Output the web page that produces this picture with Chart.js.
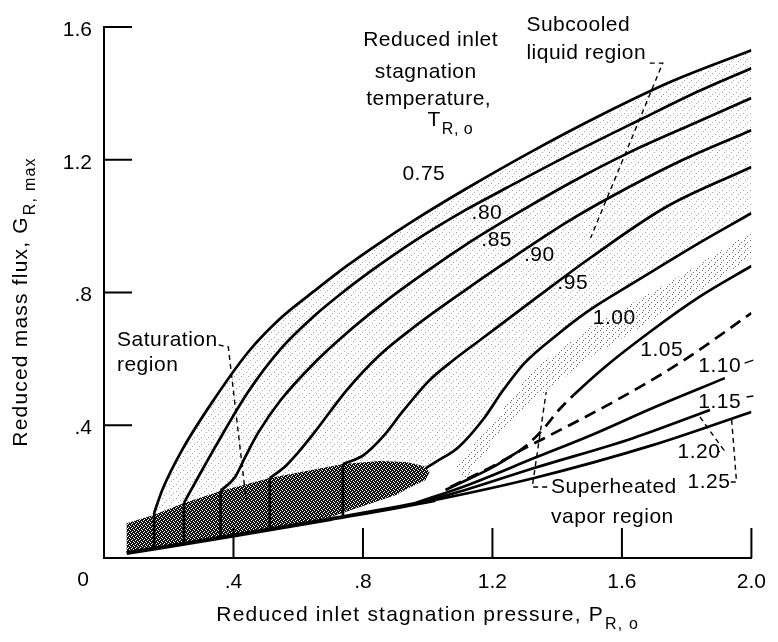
<!DOCTYPE html>
<html lang="en">
<head>
    <meta charset="UTF-8">
    <title>Reduced mass flux vs reduced inlet stagnation pressure</title>
    <script src="https://cdn.jsdelivr.net/npm/chart.js"></script>
    <style>
        body { margin: 0; background: #fff; }
        #wrap { width: 778px; height: 642px; }
    </style>
</head>
<body>
<div id="wrap"><canvas id="flux" width="778" height="642"></canvas></div>
<script>
    // axis tick labels
    const xTicks = ['0', '.4', '.8', '1.2', '1.6', '2.0'];
    const yTicks = ['0', '.4', '.8', '1.2', '1.6'];

    // curves of constant reduced inlet temperature, [P_R,o, G_R,max];
    // the first two points of the liquid curves are the stem through the saturation region
    const t075 = [[0.155,0.030],[0.155,0.136],[0.180,0.205],[0.241,0.325],[0.345,0.485],[0.445,0.620],[0.546,0.723],[0.649,0.804],[0.750,0.880],[0.851,0.949],[0.954,1.015],[1.116,1.111],[1.329,1.229],[1.534,1.334],[1.756,1.437],[2.0,1.530]];
    const t080 = [[0.247,0.045],[0.247,0.166],[0.293,0.247],[0.345,0.337],[0.445,0.500],[0.546,0.630],[0.649,0.729],[0.750,0.810],[0.851,0.883],[0.954,0.952],[1.116,1.048],[1.247,1.117],[1.430,1.211],[1.659,1.322],[1.838,1.407],[2.0,1.476]];
    const t085 = [[0.360,0.063],[0.360,0.202],[0.405,0.244],[0.436,0.304],[0.476,0.377],[0.546,0.476],[0.649,0.587],[0.750,0.678],[0.851,0.759],[0.954,0.834],[1.116,0.943],[1.277,1.039],[1.451,1.136],[1.625,1.223],[1.838,1.316],[2.0,1.386]];
    const t090 = [[0.512,0.084],[0.512,0.241],[0.558,0.274],[0.598,0.316],[0.649,0.377],[0.750,0.506],[0.851,0.611],[0.954,0.693],[1.116,0.807],[1.229,0.883],[1.430,1.012],[1.558,1.084],[1.787,1.199],[2.0,1.289]];
    const t095 = [[0.738,0.123],[0.738,0.283],[0.802,0.310],[0.863,0.367],[0.924,0.443],[1.003,0.533],[1.079,0.596],[1.162,0.657],[1.338,0.786],[1.506,0.907],[1.735,1.057],[2.0,1.178]];
    const t100 = [[0.994,0.271],[1.024,0.289],[1.095,0.334],[1.177,0.425],[1.229,0.500],[1.299,0.587],[1.399,0.672],[1.491,0.741],[1.634,0.828],[1.838,0.949],[2.0,1.039]];
    const t105 = [[1.070,0.214],[1.207,0.280],[1.299,0.334],[1.360,0.392],[1.405,0.446],[1.451,0.491],[1.543,0.572],[1.686,0.681],[1.838,0.786],[2.0,0.880]];
    const t110 = [[1.055,0.205],[1.207,0.277],[1.277,0.319],[1.360,0.361],[1.573,0.470],[1.787,0.593],[2.0,0.738]];
    const t115 = [[0.963,0.166],[1.116,0.217],[1.329,0.301],[1.512,0.373],[1.695,0.452],[1.918,0.542]];
    const t120 = [[0.963,0.163],[1.116,0.205],[1.329,0.271],[1.634,0.361],[1.872,0.446]];
    const t125 = [[0.070,0.015],[0.393,0.066],[0.698,0.117],[1.024,0.175],[1.329,0.241],[1.695,0.340],[2.0,0.440]];

    // saturation region outline and the stippled vapour band
    const satRegion = [[0.070,0.105],[0.155,0.130],[0.247,0.166],[0.360,0.202],[0.512,0.241],[0.738,0.283],[0.851,0.292],[0.933,0.289],[0.988,0.277],[1.006,0.259],[0.994,0.235],[0.948,0.214],[0.902,0.190],[0.698,0.123],[0.393,0.066],[0.070,0.015]];
    const vaporBand = [[1.085,0.277],[1.207,0.416],[1.329,0.572],[1.512,0.702],[1.756,0.837],[2.0,0.982],[2.0,0.904],[1.756,0.753],[1.512,0.611],[1.329,0.476],[1.207,0.355],[1.116,0.235]];

    // leader lines
    const leadSubcooled = [[1.686,1.491],[1.726,1.491],[1.503,0.964]];
    const leadSaturation = [[0.354,0.642],[0.384,0.636],[0.439,0.175]];
    const leadSuperheated = [[1.369,0.214],[1.323,0.214],[1.366,0.500]];
    const lead120 = [[1.841,0.425],[1.915,0.325],[1.896,0.319]];
    const lead125 = [[1.939,0.416],[1.954,0.229],[1.933,0.229]];
    const tick110 = [[1.979,0.587],[2.006,0.596]];
    const tick115 = [[1.985,0.485],[2.006,0.488]];

    // text
    const tempLabels = ['.80', '.85', '.90', '.95', '1.00', '1.05', '1.10', '1.15', '1.20', '1.25'];
    const tempLabelAt = [[1.183,1.039],[1.213,0.958],[1.345,0.913],[1.448,0.828],[1.576,0.723],[1.723,0.627],[1.902,0.578],[1.902,0.470],[1.838,0.319],[1.869,0.229]];
    const notes = ['Reduced inlet', 'stagnation', 'temperature,', '0.75', 'Subcooled', 'liquid region', 'Saturation', 'region', 'Superheated', 'vapor region'];
    const noteAt = [[1.009,1.560],[0.994,1.464],[1.003,1.383],[0.988,1.157],[1.305,1.605],[1.305,1.521],[0.040,0.657],[0.040,0.581],[1.381,0.214],[1.381,0.123]];

    const FONT = '"Liberation Sans", Arial, sans-serif';

    function stipple(n, dots, ink) {
        const c = document.createElement('canvas');
        c.width = c.height = n;
        const g = c.getContext('2d');
        g.fillStyle = ink;
        dots.forEach(([i, j]) => g.fillRect(i, j, 1, 1));
        return g.createPattern(c, 'repeat');
    }
    const darkFill = stipple(4, [[0,0],[1,0],[2,0],[0,1],[2,1],[3,1],[0,2],[1,2],[3,2],[1,3],[2,3],[3,3]], '#111');
    const lightFill = stipple(7, [[1,1],[5,3],[3,5]], '#a8a8a8');
    const bandFill = stipple(6, [[0,0],[3,2],[1,4]], '#6a6a6a');

    const lightRegion = [...t075.slice(1), ...t100.slice().reverse(), ...satRegion.slice(1, 8).reverse()];
    const liquid = [t075, t080, t085, t090, t095];

    function curve(data, extra) {
        return Object.assign({ data, showLine: true, borderColor: '#000', borderWidth: 2.7, pointRadius: 0, cubicInterpolationMode: 'monotone', fill: false, order: 1 }, extra);
    }
    function stem(data) {
        return { data, showLine: true, borderColor: '#000', borderWidth: 2.7, pointRadius: 0, tension: 0, fill: false, order: 1 };
    }
    function area(data, pattern) {
        return { data, showLine: true, fill: 'shape', backgroundColor: pattern, borderWidth: 0, pointRadius: 0, tension: 0, order: 10 };
    }
    function leader(data, dash) {
        return { data, showLine: true, borderColor: '#000', borderWidth: 1.4, borderDash: dash, pointRadius: 0, tension: 0, fill: false, clip: false, order: 0 };
    }

    // text with a subscript; x is the left edge, y the middle of the main text
    function subText(ctx, main, sub, x, y, size, spacing) {
        ctx.letterSpacing = spacing + 'px';
        ctx.font = size + 'px ' + FONT;
        ctx.textAlign = 'left';
        ctx.textBaseline = 'middle';
        ctx.fillText(main, x, y);
        const w = ctx.measureText(main).width;
        ctx.font = Math.round(size * 0.78) + 'px ' + FONT;
        ctx.fillText(sub, x + w + 1, y + size * 0.45);
    }
    function subWidth(ctx, main, sub, size, spacing) {
        ctx.letterSpacing = spacing + 'px';
        ctx.font = size + 'px ' + FONT;
        const w = ctx.measureText(main).width;
        ctx.font = Math.round(size * 0.78) + 'px ' + FONT;
        return w + 1 + ctx.measureText(sub).width;
    }

    const decorations = {
        id: 'decorations',
        afterDatasetsDraw(chart) {
            const { ctx, chartArea: a, scales: { x, y } } = chart;
            const px = v => x.getPixelForValue(v);
            const py = v => y.getPixelForValue(v);
            ctx.save();
            ctx.fillStyle = '#000';
            ctx.strokeStyle = '#000';

            // tick marks point into the plot
            ctx.lineWidth = 2;
            ctx.beginPath();
            y.ticks.forEach(t => { if (t.value > 0) { ctx.moveTo(a.left, py(t.value)); ctx.lineTo(a.left + 28, py(t.value)); } });
            x.ticks.forEach(t => { if (t.value > 0) { ctx.moveTo(px(t.value), a.bottom); ctx.lineTo(px(t.value), a.bottom - 30); } });
            ctx.stroke();

            ctx.font = '21px ' + FONT;
            ctx.textAlign = 'center';
            ctx.textBaseline = 'middle';
            ctx.fillText(xTicks[0], a.left - 21, a.bottom + 22);

            // region and temperature notes
            ctx.letterSpacing = '0.5px';
            notes.forEach((s, i) => {
                ctx.textAlign = i < 4 ? 'center' : 'left';
                ctx.fillText(s, px(noteAt[i][0]), py(noteAt[i][1]));
            });
            ctx.textAlign = 'center';
            tempLabels.forEach((s, i) => ctx.fillText(s, px(tempLabelAt[i][0]), py(tempLabelAt[i][1])));
            const tw = subWidth(ctx, 'T', 'R, o', 21, 0.5);
            subText(ctx, 'T', 'R, o', px(1.070) - tw / 2, py(1.319), 21, 0.5);

            // axis titles
            const xw = subWidth(ctx, 'Reduced inlet stagnation pressure, P', 'R, o', 21, 1.2);
            subText(ctx, 'Reduced inlet stagnation pressure, P', 'R, o', (a.left + a.right) / 2 - xw / 2, a.bottom + 57, 21, 1.2);
            ctx.save();
            ctx.translate(25, 302);
            ctx.rotate(-Math.PI / 2);
            const yw = subWidth(ctx, 'Reduced mass flux, G', 'R, max', 21, 1.2);
            subText(ctx, 'Reduced mass flux, G', 'R, max', -yw / 2, -4, 21, 1.2);
            ctx.restore();
            ctx.restore();
        }
    };

    const dash = [12, 7];
    const lead = [5, 4];

    new Chart(document.getElementById('flux'), {
        type: 'scatter',
        data: {
            datasets: [
                area(lightRegion, lightFill),
                area(vaporBand, bandFill),
                area(satRegion, darkFill),
                ...liquid.map(c => stem(c.slice(0, 2))),
                ...liquid.map(c => curve(c.slice(1))),
                curve(t100),
                curve(t105, { segment: { borderDash: c => c.p1.parsed.x <= 1.46 ? dash : [] } }),
                curve(t110, { segment: { borderDash: c => c.p0.parsed.x >= 1.27 ? dash : [] } }),
                curve(t115), curve(t120),
                curve(t125, { segment: { borderWidth: c => c.p1.parsed.x <= 1.03 ? 4 : 2.7 } }),
                leader(leadSubcooled, lead), leader(leadSaturation, lead), leader(leadSuperheated, lead),
                leader(lead120, lead), leader(lead125, lead),
                leader(tick110, []), leader(tick115, [])
            ]
        },
        options: {
            responsive: false,
            animation: false,
            devicePixelRatio: 1,
            layout: { padding: { top: 27, right: 18, left: 0, bottom: 0 } },
            plugins: { legend: { display: false }, tooltip: { enabled: false } },
            scales: {
                x: {
                    type: 'linear', min: 0, max: 2,
                    afterFit: s => { s.height = 84; },
                    border: { color: '#000', width: 2 },
                    grid: { drawOnChartArea: false, drawTicks: false },
                    ticks: {
                        stepSize: 0.4, padding: 12, color: '#000', maxRotation: 0,
                        font: { family: FONT, size: 21 },
                        callback: (v, i) => i === 0 ? '' : xTicks[i]
                    }
                },
                y: {
                    type: 'linear', min: 0, max: 1.6,
                    afterFit: s => { s.width = 104; },
                    border: { color: '#000', width: 2 },
                    grid: { drawOnChartArea: false, drawTicks: false },
                    ticks: {
                        stepSize: 0.4, padding: 12, color: '#000', labelOffset: 3,
                        font: { family: FONT, size: 21 },
                        callback: (v, i) => i === 0 ? '' : yTicks[i]
                    }
                }
            }
        },
        plugins: [decorations]
    });
</script>
</body>
</html>
